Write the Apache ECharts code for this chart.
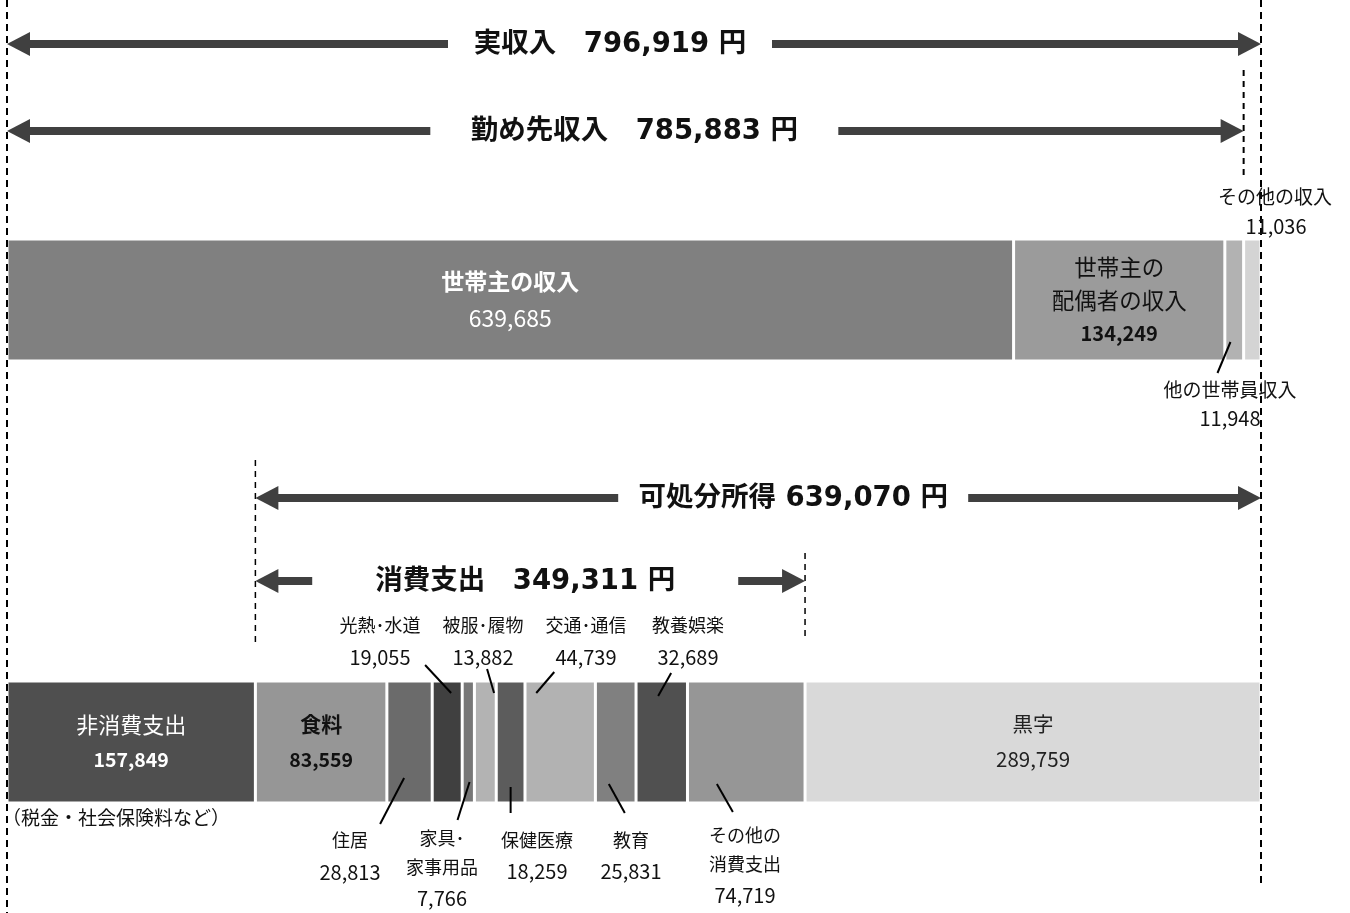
<!DOCTYPE html>
<html>
<head>
<meta charset="utf-8">
<script src="https://cdn.jsdelivr.net/npm/echarts@6/dist/echarts.min.js"></script>
<style>
html,body{margin:0;padding:0;background:#fff;}
#main{width:1350px;height:913px;}
</style>
</head>
<body>
<div id="main"></div>
<script>
// 収入の内訳
var incomeNames = ['世帯主の収入', '世帯主の配偶者の収入', '他の世帯員収入', 'その他の収入'];
var incomeValues = [639685, 134249, 11948, 11036];
var incomeColors = ['#808080', '#9b9b9b', '#b2b2b2', '#d4d4d4'];

// 支出の内訳
var spendNames = ['非消費支出', '食料', '住居', '光熱･水道', '家具･家事用品', '被服･履物', '保健医療', '交通･通信', '教育', '教養娯楽', 'その他の消費支出', '黒字'];
var spendValues = [157849, 83559, 28813, 19055, 7766, 13882, 18259, 44739, 25831, 32689, 74719, 289759];
var spendColors = ['#4f4f4f', '#969696', '#6b6b6b', '#404040', '#777777', '#b3b3b3', '#5c5c5c', '#b2b2b2', '#808080', '#505050', '#969696', '#d9d9d9'];

// 合計（矢印）
var totalNames = ['実収入', '勤め先収入', '可処分所得', '消費支出'];
var totalValues = [796919, 785883, 639070, 349311];

var FONT = '"Noto Sans CJK JP", sans-serif';
var BIG = '"DejaVu Sans", "Noto Sans CJK JP", sans-serif';
var chart = echarts.init(document.getElementById('main'));

function fmt(v){ return v.toLocaleString('en-US'); }

// 棒の中のラベル
function insideLabel(fmtStr, color, boldNum, boldTitle, lh, ts, ns){
    return {
        show: true, position: 'inside', formatter: fmtStr,
        rich: {
            t: {color: color, fontSize: ts, fontFamily: FONT, fontWeight: boldTitle ? 'bold' : 'normal', lineHeight: lh},
            n: {color: color, fontSize: ns, fontFamily: FONT, fontWeight: boldNum ? 'bold' : 'normal', lineHeight: lh}
        }
    };
}
var incomeLabels = {
    0: insideLabel('{t|世帯主の収入}\n{n|' + fmt(incomeValues[0]) + '}', '#fff', false, true, 37, 23, 23),
    1: insideLabel('{t|世帯主の}\n{t|配偶者の収入}\n{n|' + fmt(incomeValues[1]) + '}', '#111', true, false, 33, 22.5, 20)
};
var spendLabels = {
    0: insideLabel('{t|非消費支出}\n{n|' + fmt(spendValues[0]) + '}', '#fff', true, false, 35, 22, 19.5),
    1: insideLabel('{t|食料}\n{n|' + fmt(spendValues[1]) + '}', '#111', true, true, 35, 21, 19.5),
    11: insideLabel('{t|黒字}\n{n|' + fmt(spendValues[11]) + '}', '#222', false, false, 35, 20.5, 20.5)
};

var series = [];
function addBars(names, values, colors, idx, labels){
    for(var i = 0; i < names.length; i++){
        series.push({
            type: 'bar', name: names[i], stack: 's' + idx,
            xAxisIndex: idx, yAxisIndex: idx,
            barWidth: '100%', data: [values[i]],
            itemStyle: {color: colors[i], borderColor: '#fff', borderWidth: 1.5},
            label: labels[i] || {show: false},
            silent: true
        });
    }
}
addBars(incomeNames, incomeValues, incomeColors, 0, incomeLabels);
addBars(spendNames, spendValues, spendColors, 1, spendLabels);

var xAx = {type: 'value', min: 0, max: totalValues[0], show: false};
var yAx = {type: 'category', data: [''], show: false};

chart.setOption({
    animation: false,
    grid: [
        {left: 7, width: 1254, top: 239, height: 122},
        {left: 7, width: 1254, top: 681, height: 122}
    ],
    xAxis: [echarts.util.extend({gridIndex: 0}, xAx), echarts.util.extend({gridIndex: 1}, xAx)],
    yAxis: [echarts.util.extend({gridIndex: 0}, yAx), echarts.util.extend({gridIndex: 1}, yAx)],
    series: series
});

// ---- 注釈（矢印・破線・引き出し線） ----
function px(idx, v){ return chart.convertToPixel({xAxisIndex: idx}, v); }

// 各区分の左右端
function segs(values, idx){
    var out = [], acc = 0;
    for(var i = 0; i < values.length; i++){
        out.push([px(idx, acc), px(idx, acc + values[i])]);
        acc += values[i];
    }
    return out;
}
var incSeg = segs(incomeValues, 0);
var spSeg = segs(spendValues, 1);

var g = [];
function txt(x, y, s, size, weight, color, font, align){
    align = align || 'center';
    g.push({type: 'text', x: x, y: y, z: 100, silent: true, style: {
        text: s, fill: color || '#111', fontSize: size, fontWeight: weight || 'normal',
        fontFamily: font || FONT, align: align, verticalAlign: 'middle',
        textAlign: align, textVerticalAlign: 'middle'}});
}
function line(x1, y1, x2, y2, w, dash){
    g.push({type: 'line', z: 100, silent: true, shape: {x1: x1, y1: y1, x2: x2, y2: y2},
        style: {stroke: '#000', lineWidth: w, lineDash: dash || null}});
}
// 両矢印：x1..x2, 中央に文字
function arrow(x1, x2, y, label, off, half){
    var c = (x1 + x2) / 2 + off, col = '#404040', hl = 23, hh = 12;
    g.push({type: 'rect', z: 100, silent: true, shape: {x: x1 + hl - 2, y: y - 4, width: c - half - x1 - hl + 2, height: 8}, style: {fill: col}});
    g.push({type: 'rect', z: 100, silent: true, shape: {x: c + half, y: y - 4, width: x2 - hl + 2 - c - half, height: 8}, style: {fill: col}});
    g.push({type: 'polygon', z: 100, silent: true, shape: {points: [[x1, y], [x1 + hl, y - hh], [x1 + hl, y + hh]]}, style: {fill: col}});
    g.push({type: 'polygon', z: 100, silent: true, shape: {points: [[x2, y], [x2 - hl, y - hh], [x2 - hl, y + hh]]}, style: {fill: col}});
    txt(c, y + 1, label, 27.5, 'bold', '#111', BIG);
}

var x0 = px(0, 0);
var xReal = px(0, totalValues[0]);
var xWork = px(0, totalValues[1]);
var xNon = spSeg[0][1];
var xCons = px(1, spendValues[0] + totalValues[3]);

// 破線
line(x0, 0, x0, 913, 2, [7, 5]);
line(xReal, 0, xReal, 885, 2, [7, 5]);
line(xWork, 70, xWork, 178, 2, [6, 5]);
line(xNon, 460, xNon, 645, 1.5, [6, 5]);
line(xCons, 553, xCons, 640, 1.5, [6, 5]);

arrow(x0, xReal, 44, totalNames[0] + '\u3000' + fmt(totalValues[0]) + ' 円', -24, 162);
arrow(x0, xWork, 131, totalNames[1] + '\u3000' + fmt(totalValues[1]) + ' 円', 9, 204);
arrow(xNon, xReal, 498, totalNames[2] + ' ' + fmt(totalValues[2]) + ' 円', 35, 175);
arrow(xNon, xCons, 581, totalNames[3] + '\u3000' + fmt(totalValues[3]) + ' 円', -5, 213);

// 引き出しラベル: i=区分, f=区分内の位置, y1=棒側, dx,y2=文字側, cx,ys=文字位置
var spendCallouts = [
    {i: 3, f: 0.63, y1: 693, dx: -26, y2: 665, cx: 380, ys: [625, 657], lines: ['光熱･水道']},
    {i: 5, f: 0.9, y1: 693, dx: -7, y2: 669, cx: 483, ys: [625, 657], lines: ['被服･履物']},
    {i: 7, f: 0.16, y1: 693, dx: 18, y2: 672, cx: 586, ys: [625, 657], lines: ['交通･通信']},
    {i: 9, f: 0.43, y1: 696, dx: 13, y2: 673, cx: 688, ys: [625, 657], lines: ['教養娯楽']},
    {i: 2, f: 0.38, y1: 778, dx: -24, y2: 824, cx: 350, ys: [840, 872], lines: ['住居']},
    {i: 4, f: 0.6, y1: 782, dx: -12, y2: 820, cx: 442, ys: [838, 867, 898], lines: ['家具･', '家事用品']},
    {i: 6, f: 0.5, y1: 787, dx: 0, y2: 813, cx: 537, ys: [840, 871], lines: ['保健医療']},
    {i: 8, f: 0.33, y1: 784, dx: 16, y2: 813, cx: 631, ys: [840, 871], lines: ['教育']},
    {i: 10, f: 0.25, y1: 784, dx: 16, y2: 812, cx: 745, ys: [835, 864, 895], lines: ['その他の', '消費支出']}
];
for(var k = 0; k < spendCallouts.length; k++){
    var c = spendCallouts[k], s = spSeg[c.i];
    var lx = s[0] + (s[1] - s[0]) * c.f;
    line(lx, c.y1, lx + c.dx, c.y2, 2);
    for(var j = 0; j < c.lines.length; j++) txt(c.cx, c.ys[j], c.lines[j], 18, 'normal', '#111');
    txt(c.cx, c.ys[c.lines.length], fmt(spendValues[c.i]), 20, 'normal', '#111');
}

// 収入側の引き出し
var s2 = incSeg[2], lx2 = s2[0] + (s2[1] - s2[0]) * 0.3;
line(lx2, 342, lx2 - 13, 373, 2);
txt(1230, 390, incomeNames[2], 19, 'normal', '#111');
txt(1230, 418, fmt(incomeValues[2]), 20, 'normal', '#111');
txt(1275, 197, incomeNames[3], 19, 'normal', '#111');
txt(1276, 226, fmt(incomeValues[3]), 20, 'normal', '#111');

// 非消費支出の注記
txt(2, 818, '（税金・社会保険料など）', 19, 'normal', '#111', FONT, 'left');

chart.setOption({graphic: g});
</script>
</body>
</html>
